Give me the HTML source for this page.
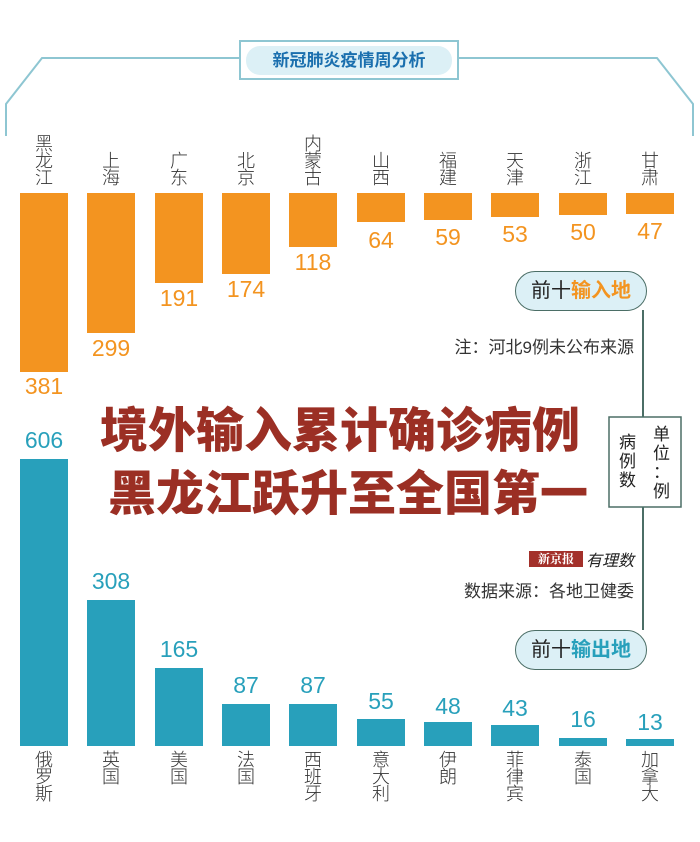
<!DOCTYPE html><html><head><meta charset="utf-8"><style>
body{margin:0;width:700px;height:842px;background:#fff;position:relative;overflow:hidden;font-family:"Liberation Sans","Noto Sans CJK SC",sans-serif}
.a{position:absolute}
.b{position:absolute;width:48px}
.o{background:#f39420}.t{background:#28a0bb}
.n{position:absolute;width:48px;text-align:center;font-size:18px;line-height:17px;color:#333;font-weight:300}
.vo{position:absolute;width:60px;text-align:center;font-size:23px;color:#f39420}
.vt{position:absolute;width:60px;text-align:center;font-size:23px;color:#28a0bb}
.pill{position:absolute;width:130px;height:38px;border:1.5px solid #4b6e66;border-radius:20px;background:#dcf0f6;text-align:center;line-height:38px;font-size:20px;color:#222}
.pill b{font-weight:bold}
</style></head><body>
<svg class="a" style="left:0;top:0" width="700" height="842">
<polyline points="6,136 6,104 42,58 240,58" fill="none" stroke="#8ec6d2" stroke-width="2"/>
<polyline points="458,58 657,58 693,104 693,136" fill="none" stroke="#8ec6d2" stroke-width="2"/>
<rect x="240" y="41" width="218" height="38" fill="#fff" stroke="#8ec6d2" stroke-width="2"/>
<rect x="246" y="46" width="206" height="29" rx="14" fill="#dcf0f6"/>
<line x1="643" y1="310" x2="643" y2="630" stroke="#4b6e66" stroke-width="2"/>
<rect x="609" y="417" width="72" height="90" fill="#fff" stroke="#4b6e66" stroke-width="1.5"/>
</svg>
<div class="a" style="left:246px;top:46px;width:206px;text-align:center;line-height:29px;font-size:17px;font-weight:bold;color:#1a6fae">新冠肺炎疫情周分析</div>

<div class="b o" style="left:20px;top:193px;height:179px"></div>
<div class="b o" style="left:87px;top:193px;height:140px"></div>
<div class="b o" style="left:155px;top:193px;height:90px"></div>
<div class="b o" style="left:222px;top:193px;height:81px"></div>
<div class="b o" style="left:289px;top:193px;height:54px"></div>
<div class="b o" style="left:357px;top:193px;height:29px"></div>
<div class="b o" style="left:424px;top:193px;height:27px"></div>
<div class="b o" style="left:491px;top:193px;height:24px"></div>
<div class="b o" style="left:559px;top:193px;height:22px"></div>
<div class="b o" style="left:626px;top:193px;height:21px"></div>

<div class="vo" style="left:14px;top:373px">381</div>
<div class="vo" style="left:81px;top:335px">299</div>
<div class="vo" style="left:149px;top:285px">191</div>
<div class="vo" style="left:216px;top:276px">174</div>
<div class="vo" style="left:283px;top:249px">118</div>
<div class="vo" style="left:351px;top:227px">64</div>
<div class="vo" style="left:418px;top:224px">59</div>
<div class="vo" style="left:485px;top:221px">53</div>
<div class="vo" style="left:553px;top:219px">50</div>
<div class="vo" style="left:620px;top:218px">47</div>

<div class="n" style="left:20px;top:136px">黑<br>龙<br>江</div>
<div class="n" style="left:87px;top:153px">上<br>海</div>
<div class="n" style="left:155px;top:153px">广<br>东</div>
<div class="n" style="left:222px;top:153px">北<br>京</div>
<div class="n" style="left:289px;top:136px">内<br>蒙<br>古</div>
<div class="n" style="left:357px;top:153px">山<br>西</div>
<div class="n" style="left:424px;top:153px">福<br>建</div>
<div class="n" style="left:491px;top:153px">天<br>津</div>
<div class="n" style="left:559px;top:153px">浙<br>江</div>
<div class="n" style="left:626px;top:153px">甘<br>肃</div>

<div class="pill" style="left:515px;top:271px">前十<b style="color:#f39420">输入地</b></div>
<div class="pill" style="left:515px;top:630px">前十<b style="color:#28a0bb">输出地</b></div>
<div class="a" style="right:66px;top:333px;font-size:17px;color:#333">注：河北9例未公布来源</div>
<div class="a" style="right:66px;top:577px;font-size:17px;color:#333">数据来源：各地卫健委</div>
<div class="a" style="left:529px;top:551px;width:54px;height:16px;background:#a3302a;color:#fff;font-size:12px;font-weight:bold;line-height:16px;text-align:center;font-family:'Noto Serif CJK SC',serif">新京报</div>
<div class="a" style="left:586px;top:547px;font-size:16px;font-style:italic;color:#222">有理数</div>

<div class="a" style="left:653px;top:425px;width:18px;font-size:17px;line-height:19px;color:#222">单<br>位<br>：<br>例</div>
<div class="a" style="left:619px;top:433px;width:18px;font-size:17px;line-height:19px;color:#222">病<br>例<br>数</div>

<div class="a" style="left:100px;top:404px;font-size:48px;font-weight:900;color:#9b2f24;line-height:56px">境外输入累计确诊病例</div>
<div class="a" style="left:108px;top:467px;font-size:48px;font-weight:900;color:#9b2f24;line-height:56px">黑龙江跃升至全国第一</div>

<div class="b t" style="left:20px;top:459px;height:287px"></div>
<div class="b t" style="left:87px;top:600px;height:146px"></div>
<div class="b t" style="left:155px;top:668px;height:78px"></div>
<div class="b t" style="left:222px;top:704px;height:42px"></div>
<div class="b t" style="left:289px;top:704px;height:42px"></div>
<div class="b t" style="left:357px;top:719px;height:27px"></div>
<div class="b t" style="left:424px;top:722px;height:24px"></div>
<div class="b t" style="left:491px;top:725px;height:21px"></div>
<div class="b t" style="left:559px;top:738px;height:8px"></div>
<div class="b t" style="left:626px;top:739px;height:7px"></div>

<div class="vt" style="left:14px;top:427px">606</div>
<div class="vt" style="left:81px;top:568px">308</div>
<div class="vt" style="left:149px;top:636px">165</div>
<div class="vt" style="left:216px;top:672px">87</div>
<div class="vt" style="left:283px;top:672px">87</div>
<div class="vt" style="left:351px;top:688px">55</div>
<div class="vt" style="left:418px;top:693px">48</div>
<div class="vt" style="left:485px;top:695px">43</div>
<div class="vt" style="left:553px;top:706px">16</div>
<div class="vt" style="left:620px;top:709px">13</div>

<div class="n" style="left:20px;top:752px">俄<br>罗<br>斯</div>
<div class="n" style="left:87px;top:752px">英<br>国</div>
<div class="n" style="left:155px;top:752px">美<br>国</div>
<div class="n" style="left:222px;top:752px">法<br>国</div>
<div class="n" style="left:289px;top:752px">西<br>班<br>牙</div>
<div class="n" style="left:357px;top:752px">意<br>大<br>利</div>
<div class="n" style="left:424px;top:752px">伊<br>朗</div>
<div class="n" style="left:491px;top:752px">菲<br>律<br>宾</div>
<div class="n" style="left:559px;top:752px">泰<br>国</div>
<div class="n" style="left:626px;top:752px">加<br>拿<br>大</div>
</body></html>
